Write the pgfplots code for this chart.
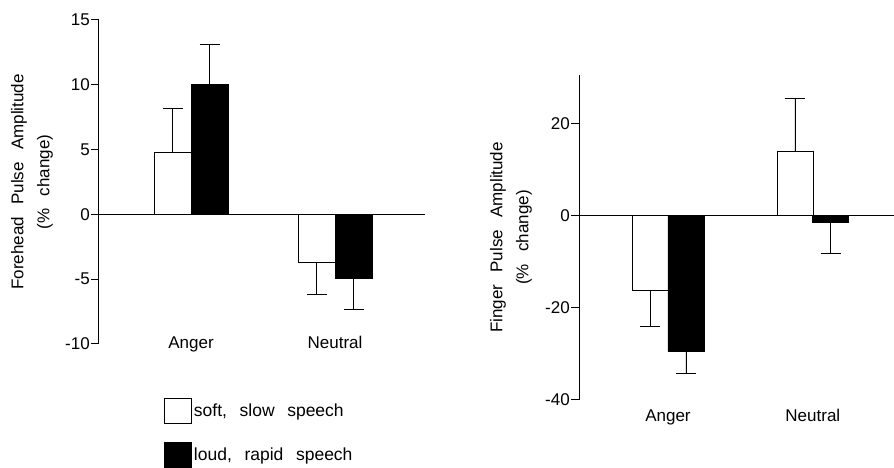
\documentclass[border=0pt]{standalone}
\usepackage{fontspec}
\setmainfont[WordSpace=2.6]{Liberation Sans}
\usepackage{pgfplots}
\pgfplotsset{compat=1.18}
\begin{document}
\begin{tikzpicture}[font=\fontsize{17}{20}\selectfont]
\useasboundingbox (0pt,0pt) rectangle (894pt,468pt);
\pgfplotsset{
 mystyle/.style={
  scale only axis,
  axis x line=bottom, axis y line=left,
  x axis line style={draw=none},
  y axis line style={-, line width=1pt},
  xtick style={draw=none},
  ytick style={line width=1pt, black},
  tick align=outside,
  major tick length=8pt,
  xtick={1,2}, xticklabels={Anger,Neutral},
  /pgf/number format/assume math mode=true,
  tick label style={font=\fontsize{17}{20}\selectfont},
  yticklabel style={inner sep=1pt},
  clip=false,
  error bars/y dir=both, error bars/y explicit,
  error bars/error mark options={rotate=90, black, mark size=10pt, line width=0.8pt},
  error bars/error bar style={line width=0.8pt, black},
 }
}
\begin{axis}[mystyle, at={(99pt,124pt)}, anchor=south west, width=326pt, height=324pt,
  xmin=0.361, xmax=2.625, ymin=-10, ymax=15, ytick={-10,-5,0,5,10,15},
  xticklabel style={anchor=base, yshift=3pt},
  ylabel={Forehead Pulse Amplitude\\[6pt](\% change)},
  every axis y label/.style={at={(axis description cs:-0.2055,0.5)}, rotate=90, anchor=center, align=center, font=\fontsize{17}{20}\selectfont},
  legend style={at={(rel axis cs:0.19,-0.16)}, anchor=north west, draw=none, fill=none,
    row sep=18pt, cells={anchor=west}, font=\fontsize{17.5}{20}\selectfont},
]
\addplot[ybar, bar width=37pt, bar shift=0pt, fill=white, draw=black, line width=0.8pt,
  legend image code/.code={\draw[fill=white, draw=black, line width=0.8pt] (0pt,-12.5pt) rectangle (27pt,12.5pt);}]
  coordinates {(0.8715,4.8) += (0,3.4) -= (0,0) (1.8715,-3.7) += (0,0) -= (0,2.5)};
\addlegendentry{soft, slow speech}
\addplot[ybar, bar width=37pt, bar shift=0pt, fill=black, draw=black, line width=0.8pt,
  legend image code/.code={\draw[fill=black, draw=black, line width=0.8pt] (0pt,-12.5pt) rectangle (27pt,12.5pt);}]
  coordinates {(1.1285,10.0) += (0,3.1) -= (0,0) (2.1285,-4.9) += (0,0) -= (0,2.4)};
\addlegendentry{loud, rapid speech}
\addplot[black, line width=1pt, forget plot] coordinates {(0.361,0) (2.625,0)};
\end{axis}
\begin{axis}[mystyle, at={(579pt,68pt)}, anchor=south west, width=315pt, height=325pt,
  xmin=0.386, xmax=2.56, ymin=-40, ymax=30.5, ytick={-40,-20,0,20},
  xticklabel style={anchor=base, yshift=-14pt},
  ylabel={Finger Pulse Amplitude\\[6pt](\% change)},
  every axis y label/.style={at={(axis description cs:-0.216,0.5)}, rotate=90, anchor=center, align=center, font=\fontsize{17}{20}\selectfont},
]
\addplot[ybar, bar width=36pt, bar shift=0pt, fill=white, draw=black, line width=0.8pt]
  coordinates {(0.876,-16.3) += (0,0) -= (0,7.8) (1.876,14.0) += (0,11.5) -= (0,0)};
\addplot[ybar, bar width=36pt, bar shift=0pt, fill=black, draw=black, line width=0.8pt]
  coordinates {(1.124,-29.4) += (0,0) -= (0,4.8) (2.124,-1.4) += (0,0) -= (0,6.7)};
\addplot[black, line width=1pt] coordinates {(0.386,0) (2.56,0)};
\end{axis}
\end{tikzpicture}
\end{document}
